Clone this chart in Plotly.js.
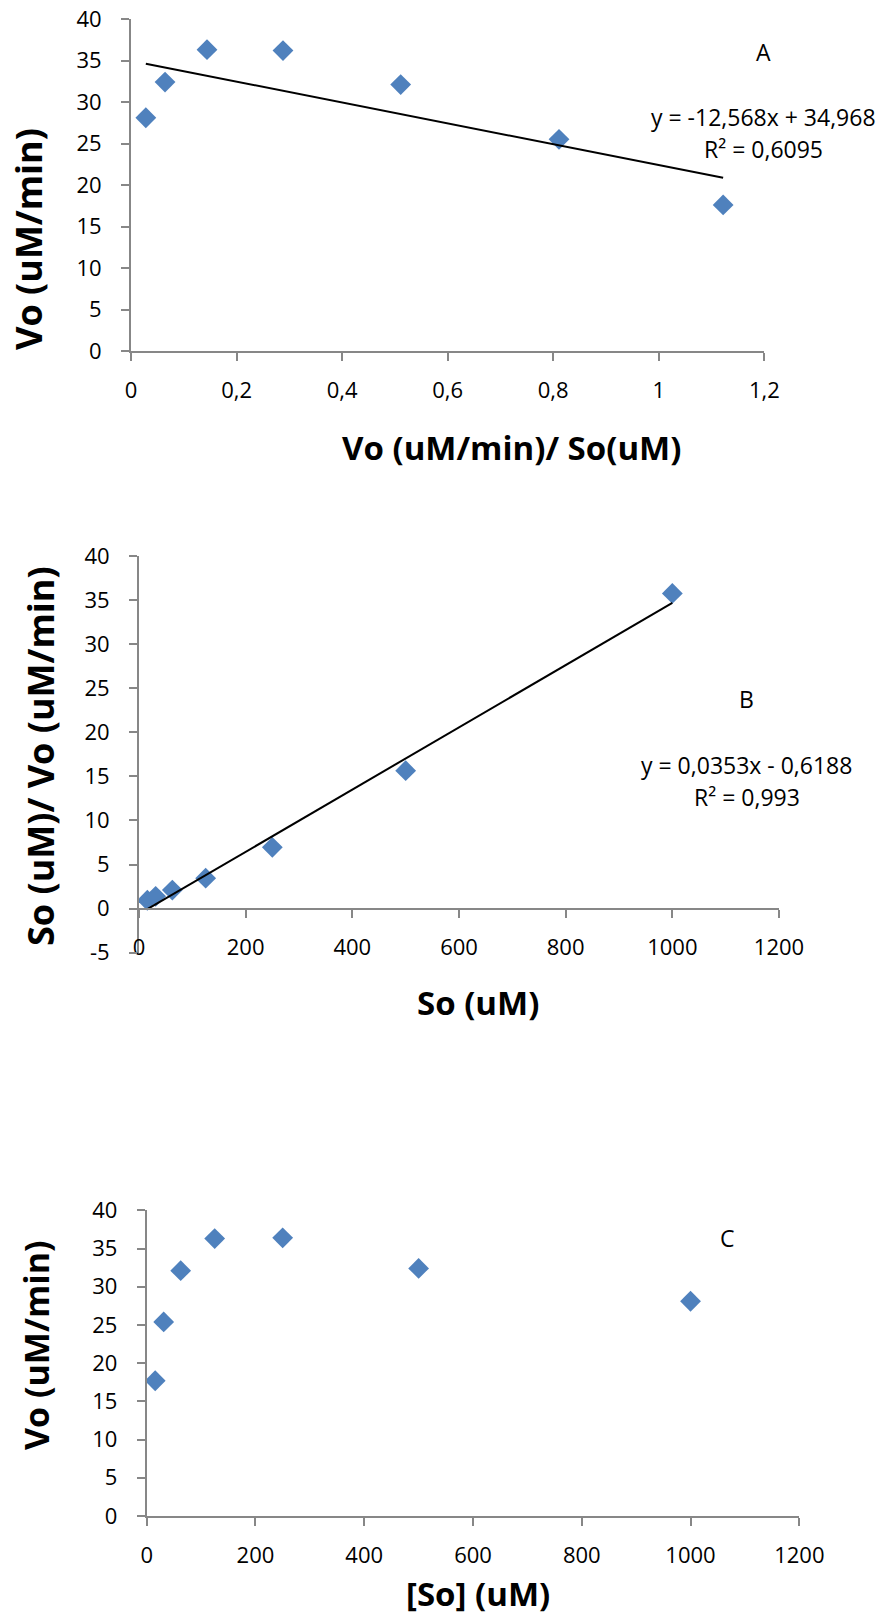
<!DOCTYPE html>
<html>
<head>
<meta charset="utf-8">
<script src="https://cdn.plot.ly/plotly-3.0.1.min.js"></script>
<style>html,body{margin:0;padding:0;background:#fff;}#chart{width:882px;height:1616px;}</style>
</head>
<body>
<div id="chart"></div>
<script>
// ---- Data ----
// Chart A (Eadie-Hofstee): x = Vo/So, y = Vo
const aX = [0.0281, 0.0645, 0.144, 0.288, 0.511, 0.811, 1.122];
const aY = [28.1, 32.4, 36.3, 36.2, 32.1, 25.5, 17.6];
const aFit = {slope: -12.568, intercept: 34.968};
const aEq = "y = -12,568x + 34,968";
const aR2 = "R² = 0,6095";

// Chart B (Hanes-Woolf): x = So, y = So/Vo
const bX = [15.625, 31.25, 62.5, 125, 250, 500, 1000];
const bY = [0.95, 1.4, 2.1, 3.45, 6.95, 15.65, 35.75];
const bFit = {slope: 0.0353, intercept: -0.6188};
const bEq = "y = 0,0353x - 0,6188";
const bR2 = "R² = 0,993";

// Chart C (Michaelis-Menten): x = [So], y = Vo
const cX = [15.625, 31.25, 62.5, 125, 250, 500, 1000];
const cY = [17.7, 25.4, 32.1, 36.3, 36.4, 32.4, 28.1];

// Tick labels
const aXTicks = [0, 0.2, 0.4, 0.6, 0.8, 1, 1.2];
const aXTickText = ["0", "0,2", "0,4", "0,6", "0,8", "1", "1,2"];
const yTicks040 = [0, 5, 10, 15, 20, 25, 30, 35, 40];
const yTicksB = [-5, 0, 5, 10, 15, 20, 25, 30, 35, 40];
const yTicksBText = ["-5", "0", "5", "10", "15", "20", "25", "30", "35", "40"];
const xTicks1200 = [0, 200, 400, 600, 800, 1000, 1200];

// ---- Helpers ----
const W = 882, H = 1616;
const px = v => v / W;
const py = v => 1 - v / H;
const FONT = "Open Sans, Lato, sans-serif";
const blue = "#4F81BD";
const axisGray = "#878787";

function fitLine(xs, fit) {
  const lo = Math.min(...xs), hi = Math.max(...xs);
  return {x: [lo, hi], y: [fit.slope * lo + fit.intercept, fit.slope * hi + fit.intercept]};
}
const aLine = fitLine(aX, aFit);
const bLine = fitLine(bX, bFit);

const marker = {symbol: "diamond", size: 16, color: blue, line: {width: 0}};

const traces = [
  {x: aX, y: aY, type: "scatter", mode: "markers", marker, xaxis: "x", yaxis: "y", hoverinfo: "none"},
  {x: aLine.x, y: aLine.y, type: "scatter", mode: "lines", line: {color: "#000", width: 2}, xaxis: "x", yaxis: "y", hoverinfo: "none"},
  {x: bX, y: bY, type: "scatter", mode: "markers", marker, xaxis: "x2", yaxis: "y2", hoverinfo: "none"},
  {x: bLine.x, y: bLine.y, type: "scatter", mode: "lines", line: {color: "#000", width: 2}, xaxis: "x2", yaxis: "y2", hoverinfo: "none"},
  {x: cX, y: cY, type: "scatter", mode: "markers", marker, xaxis: "x3", yaxis: "y3", hoverinfo: "none"}
];

const tickFont = {family: FONT, size: 22, color: "#000"};
function axisBase(extra) {
  return Object.assign({
    showgrid: false, zeroline: false, showline: true, linecolor: axisGray, linewidth: 2,
    ticks: "outside", ticklen: 8, tickwidth: 2, tickcolor: axisGray,
    tickfont: tickFont, fixedrange: true, tickmode: "array"
  }, extra);
}

const yB0 = py(908.7);

const layout = {
  width: W, height: H,
  margin: {l: 0, r: 0, t: 0, b: 0},
  paper_bgcolor: "#fff", plot_bgcolor: "#fff",
  showlegend: false,
  font: {family: FONT, color: "#000"},
  xaxis: axisBase({domain: [px(131), px(764.3)], range: [0, 1.2], tickvals: aXTicks, ticktext: aXTickText, anchor: "y", ticklabelstandoff: 11}),
  yaxis: axisBase({domain: [py(351), py(19)], range: [0, 40], tickvals: yTicks040, anchor: "x", ticklabelstandoff: 15}),
  xaxis2: axisBase({domain: [px(139), px(779)], range: [0, 1200], tickvals: xTicks1200, anchor: "free", position: yB0, ticklabelstandoff: 11}),
  yaxis2: axisBase({domain: [py(952.7), py(556)], range: [-5, 40], tickvals: yTicksB, ticktext: yTicksBText, anchor: "x2", ticklabelstandoff: 15}),
  xaxis3: axisBase({domain: [px(146.7), px(799.3)], range: [0, 1200], tickvals: xTicks1200, anchor: "y3", ticklabelstandoff: 11}),
  yaxis3: axisBase({domain: [py(1516), py(1210.3)], range: [0, 40], tickvals: yTicks040, anchor: "x3", ticklabelstandoff: 15}),
  annotations: []
};

function note(text, x, y, size, bold, rot) {
  layout.annotations.push({
    text, x: px(x), y: py(y), xref: "paper", yref: "paper",
    xanchor: "center", yanchor: "middle", showarrow: false,
    textangle: rot || 0,
    font: {family: FONT, size, color: "#000", weight: bold ? 700 : 400}
  });
}

// Chart A labels
note("A", 763, 51.7, 23);
note(aEq, 763, 116.7, 23);
note(aR2, 763, 149, 23);
note("Vo (uM/min)/ So(uM)", 511, 447, 33, true);
note("Vo (uM/min)", 29, 239, 36, true, -90);

// Chart B labels
note("B", 746.7, 699.3, 23);
note(bEq, 746, 765, 23);
note(bR2, 746.5, 796.7, 23);
note("So (uM)", 478, 1002, 33, true);
note("So (uM)/ Vo (uM/min)", 40, 756, 36, true, -90);

// Chart C labels
note("C", 727, 1238.3, 23);
note("[So] (uM)", 477.5, 1593, 33, true);
note("Vo (uM/min)", 36, 1345, 34, true, -90);

Plotly.newPlot("chart", traces, layout, {staticPlot: true, displayModeBar: false});
</script>
</body>
</html>
